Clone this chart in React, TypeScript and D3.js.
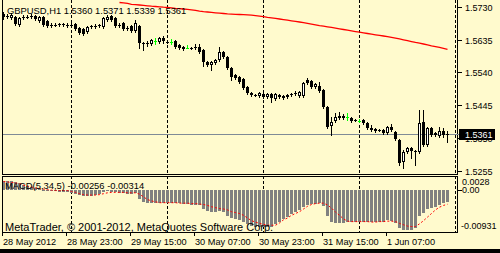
import React from 'react';
import * as d3 from 'd3';

// ---------- data ----------
const symbolTitle = 'GBPUSD,H1 1.5360 1.5371 1.5339 1.5361';
const macdTitle = 'MACD(5,34,5) -0.00256 -0.00314';
const copyright = 'MetaTrader, \u00A9 2001-2012, MetaQuotes Software Corp.';

const open = [
  1.5709,1.5704,1.5698,1.5701,1.5677,1.5701,1.5701,1.5704,1.5704,1.5689,
  1.5701,1.5689,1.5677,1.5677,1.5680,1.5679,1.5677,1.5678,1.5680,1.5669,
  1.5666,1.5657,1.5675,1.5675,1.5676,1.5672,1.5692,1.5704,1.5698,1.5677,
  1.5683,1.5669,1.5675,1.5660,1.5675,1.5625,1.5625,1.5622,1.5631,1.5628,
  1.5640,1.5628,1.5629,1.5631,1.5620,1.5614,1.5611,1.5611,1.5613,1.5614,
  1.5605,1.5570,1.5562,1.5567,1.5576,1.5599,1.5585,1.5553,1.5532,1.5527,
  1.5521,1.5498,1.5480,1.5475,1.5472,1.5477,1.5469,1.5477,1.5463,1.5474,
  1.5472,1.5469,1.5477,1.5480,1.5472,1.5472,1.5518,1.5515,1.5498,1.5501,
  1.5489,1.5440,1.5385,1.5399,1.5414,1.5414,1.5411,1.5408,1.5402,1.5400,
  1.5402,1.5393,1.5379,1.5376,1.5373,1.5373,1.5364,1.5382,1.5367,1.5344,
  1.5280,1.5309,1.5321,1.5311,1.5309,1.5396,1.5330,1.5379,1.5364,1.5356,
  1.5370,1.5360,
];
const high = [
  1.5715,1.5709,1.5712,1.5704,1.5701,1.5706,1.5706,1.5709,1.5706,1.5704,
  1.5704,1.5692,1.5683,1.5683,1.5683,1.5683,1.5683,1.5683,1.5683,1.5672,
  1.5669,1.5675,1.5677,1.5680,1.5680,1.5701,1.5706,1.5706,1.5701,1.5683,
  1.5686,1.5675,1.5677,1.5692,1.5677,1.5628,1.5631,1.5637,1.5640,1.5643,
  1.5646,1.5634,1.5637,1.5634,1.5622,1.5617,1.5619,1.5614,1.5622,1.5622,
  1.5608,1.5573,1.5573,1.5579,1.5614,1.5602,1.5588,1.5556,1.5535,1.5530,
  1.5524,1.5501,1.5483,1.5477,1.5483,1.5480,1.5480,1.5480,1.5480,1.5477,
  1.5474,1.5477,1.5480,1.5486,1.5486,1.5512,1.5524,1.5518,1.5509,1.5512,
  1.5492,1.5443,1.5411,1.5422,1.5425,1.5419,1.5422,1.5411,1.5405,1.5405,
  1.5405,1.5396,1.5388,1.5379,1.5376,1.5376,1.5385,1.5390,1.5370,1.5347,
  1.5315,1.5324,1.5324,1.5315,1.5431,1.5431,1.5382,1.5382,1.5367,1.5382,
  1.5379,1.5371,
];
const low = [
  1.5695,1.5698,1.5695,1.5677,1.5675,1.5695,1.5698,1.5698,1.5692,1.5686,
  1.5675,1.5672,1.5672,1.5675,1.5675,1.5675,1.5672,1.5672,1.5663,1.5651,
  1.5648,1.5654,1.5669,1.5669,1.5672,1.5669,1.5689,1.5689,1.5672,1.5672,
  1.5663,1.5663,1.5657,1.5657,1.5611,1.5605,1.5617,1.5620,1.5622,1.5625,
  1.5625,1.5625,1.5622,1.5611,1.5608,1.5605,1.5610,1.5608,1.5608,1.5596,
  1.5559,1.5559,1.5547,1.5564,1.5573,1.5582,1.5550,1.5518,1.5521,1.5509,
  1.5492,1.5477,1.5472,1.5472,1.5469,1.5466,1.5466,1.5454,1.5460,1.5466,
  1.5463,1.5466,1.5472,1.5474,1.5469,1.5469,1.5506,1.5495,1.5495,1.5483,
  1.5437,1.5379,1.5359,1.5396,1.5405,1.5405,1.5402,1.5396,1.5399,1.5396,
  1.5390,1.5376,1.5370,1.5367,1.5370,1.5361,1.5361,1.5370,1.5344,1.5272,
  1.5263,1.5306,1.5292,1.5272,1.5306,1.5327,1.5327,1.5356,1.5356,1.5353,
  1.5353,1.5339,
];
const close = [
  1.5701,1.5703,1.5706,1.5680,1.5698,1.5700,1.5700,1.5703,1.5695,1.5701,
  1.5677,1.5675,1.5678,1.5676,1.5679,1.5678,1.5678,1.5677,1.5666,1.5654,
  1.5651,1.5672,1.5674,1.5676,1.5678,1.5698,1.5701,1.5692,1.5675,1.5678,
  1.5666,1.5668,1.5660,1.5683,1.5625,1.5624,1.5626,1.5634,1.5631,1.5640,
  1.5631,1.5627,1.5629,1.5614,1.5611,1.5608,1.5611,1.5610,1.5612,1.5599,
  1.5570,1.5562,1.5570,1.5576,1.5599,1.5585,1.5553,1.5527,1.5524,1.5512,
  1.5495,1.5480,1.5474,1.5474,1.5480,1.5469,1.5477,1.5466,1.5477,1.5469,
  1.5466,1.5474,1.5476,1.5479,1.5483,1.5509,1.5509,1.5498,1.5506,1.5486,
  1.5440,1.5382,1.5396,1.5411,1.5408,1.5408,1.5411,1.5399,1.5401,1.5400,
  1.5393,1.5379,1.5373,1.5370,1.5372,1.5364,1.5382,1.5373,1.5347,1.5277,
  1.5309,1.5321,1.5312,1.5310,1.5393,1.5330,1.5379,1.5359,1.5359,1.5370,
  1.5359,1.5361,
];

// moving average (red line), first value belongs to bar maStart
const maStart = 29;
const maValues = [
  1.57428,1.57419,1.57399,1.57375,1.57367,1.57355,1.57343,1.57332,1.57320,1.57312,
  1.57303,1.57291,1.57283,1.57271,1.57259,1.57251,1.57239,1.57230,1.57216,1.57198,
  1.57178,1.57161,1.57152,1.57140,1.57129,1.57120,1.57109,1.57097,1.57091,1.57085,
  1.57080,1.57074,1.57068,1.57059,1.57045,1.57030,1.57016,1.56998,1.56984,1.56966,
  1.56949,1.56932,1.56914,1.56897,1.56879,1.56862,1.56842,1.56821,1.56801,1.56781,
  1.56760,1.56743,1.56723,1.56705,1.56685,1.56665,1.56645,1.56624,1.56604,1.56584,
  1.56566,1.56549,1.56529,1.56511,1.56491,1.56473,1.56456,1.56436,1.56415,1.56395,
  1.56372,1.56346,1.56320,1.56296,1.56270,1.56247,1.56224,1.56198,1.56172,1.56149,
  1.56123,1.56096,1.56070,
];

const macdMain = [
  0.0021,0.0021,0.0020,0.0018,0.0016,0.0012,0.0009,0.0007,0.0005,0.0003,
  0.0001,-0.0001,-0.0002,-0.0003,-0.0004,-0.0004,-0.0004,-0.0006,-0.0008,-0.0011,
  -0.0013,-0.0013,-0.0012,-0.0011,-0.0009,-0.0004,-0.0003,-0.0004,-0.0005,-0.0006,
  -0.0007,-0.0008,-0.0009,-0.0006,-0.0020,-0.0026,-0.0029,-0.0029,-0.0029,-0.0028,
  -0.0028,-0.0028,-0.0028,-0.0029,-0.0029,-0.0030,-0.0031,-0.0032,-0.0032,-0.0034,
  -0.0042,-0.0046,-0.0048,-0.0048,-0.0046,-0.0049,-0.0058,-0.0063,-0.0064,-0.0066,
  -0.0071,-0.0075,-0.0079,-0.0081,-0.0082,-0.0083,-0.0083,-0.0082,-0.0075,-0.0071,
  -0.0065,-0.0059,-0.0053,-0.0049,-0.0044,-0.0037,-0.0033,-0.0031,-0.0030,-0.0029,
  -0.0036,-0.0058,-0.0071,-0.0073,-0.0073,-0.0072,-0.0071,-0.0071,-0.0070,-0.0070,
  -0.0070,-0.0071,-0.0071,-0.0071,-0.0070,-0.0070,-0.0066,-0.0068,-0.0073,-0.0084,
  -0.0089,-0.0088,-0.0088,-0.0085,-0.0057,-0.0051,-0.0043,-0.0040,-0.0038,-0.0033,
  -0.0029,-0.00256,
];
const macdSignal = [
  0.0019,0.0018,0.0017,0.0016,0.0014,0.0011,0.0009,0.0007,0.0005,0.0004,
  0.0002,0.0001,0.0000,-0.0001,-0.0001,-0.0001,-0.0001,-0.0003,-0.0005,-0.0008,
  -0.0010,-0.0011,-0.0011,-0.0011,-0.0010,-0.0008,-0.0006,-0.0005,-0.0005,-0.0005,
  -0.0005,-0.0006,-0.0006,-0.0006,-0.0009,-0.0015,-0.0021,-0.0024,-0.0026,-0.0028,
  -0.0028,-0.0028,-0.0028,-0.0028,-0.0029,-0.0029,-0.0029,-0.0030,-0.0030,-0.0031,
  -0.0032,-0.0034,-0.0037,-0.0039,-0.0041,-0.0042,-0.0044,-0.0048,-0.0050,-0.0052,
  -0.0056,-0.0062,-0.0068,-0.0071,-0.0074,-0.0076,-0.0078,-0.0078,-0.0078,-0.0073,
  -0.0066,-0.0062,-0.0056,-0.0052,-0.0048,-0.0042,-0.0036,-0.0032,-0.0030,-0.0029,
  -0.0029,-0.0033,-0.0040,-0.0049,-0.0056,-0.0064,-0.0069,-0.0070,-0.0070,-0.0070,
  -0.0070,-0.0070,-0.0071,-0.0071,-0.0070,-0.0070,-0.0069,-0.0069,-0.0070,-0.0074,
  -0.0077,-0.0080,-0.0081,-0.0081,-0.0075,-0.0068,-0.0060,-0.0052,-0.0044,-0.0038,
  -0.0034,-0.00314,
];

const priceTicks = [1.5730, 1.5635, 1.5540, 1.5445, 1.5350, 1.5255];
const bidPrice = 1.5361;
const macdMax = 0.0028;
const macdMin = -0.00931;
const timeLabels = ['28 May 2012', '28 May 23:00', '29 May 15:00', '30 May 07:00', '30 May 23:00', '31 May 15:00', '1 Jun 07:00'];
const timeLabelBars = [0, 16, 32, 48, 64, 80, 96];
const daySeparatorBars = [17, 41, 65, 89, 113];

// ---------- drawing ----------
const FONT = '"Liberation Sans", Arial, sans-serif';
const BG = '#FFFACD';

export default function App() {
  const W = 500, H = 253;
  const left = 2, right = 457, mainBottom = 174, subTop = 176, subBottom = 232;

  const x = d3.scaleLinear().domain([0, 113]).range([3, 455]);
  const y = d3.scaleLinear().domain([1.5244, 1.5750]).range([mainBottom + 0.5, 0]);
  const ym = d3.scaleLinear().domain([macdMin, macdMax]).range([subBottom, subTop + 1.5]);

  const maLine = d3.line<number>()
    .x((_, k) => x(maStart + k) + 0.5)
    .y((d) => y(d));
  const sigLine = d3.line<number>()
    .x((_, k) => x(k) + 0.5)
    .y((d) => ym(d));

  const candles = open.map((o, i) => {
    const c = close[i];
    const col = Math.round(x(i));
    const wTop = Math.round(y(high[i]));
    const wBot = Math.round(y(low[i]));
    const bTop = Math.round(y(Math.max(o, c)));
    const bBot = Math.round(y(Math.min(o, c)));
    const hBody = bBot - bTop;
    const doji = o === c;
    const color = doji ? '#00FF00' : '#000';
    const parts: React.ReactNode[] = [];
    parts.push(<rect key="w" x={col} y={wTop} width={1} height={Math.max(1, wBot - wTop + 1)} fill={color} />);
    if (hBody < 1) {
      parts.push(<rect key="b" x={col - 1} y={bTop} width={3} height={1} fill={color} />);
    } else if (c > o && hBody >= 3) {
      parts.push(<rect key="b" x={col - 0.5} y={bTop + 0.5} width={2} height={hBody - 1} fill="#fff" stroke="#000" strokeWidth={1} />);
    } else {
      parts.push(<rect key="b" x={col - 1} y={bTop} width={3} height={hBody} fill="#000" />);
    }
    return <g key={i}>{parts}</g>;
  });

  const zeroY = Math.round(ym(0));
  const bars = macdMain.map((v, i) => {
    const col = Math.round(x(i));
    const yv = Math.round(ym(v));
    const top = Math.min(zeroY, yv);
    const h = Math.max(1, Math.abs(yv - zeroY));
    return <rect key={i} x={col - 1} y={top} width={3} height={h} fill="#808080" />;
  });

  const bidY = Math.round(y(bidPrice)) + 0.5;

  return (
    <div style={{ position: 'absolute', left: 0, top: 0 }}>
      <svg width={W} height={H} style={{ display: 'block' }} shapeRendering="crispEdges">
        <defs>
          <clipPath id="mainClip"><rect x={left + 1} y={0} width={right - left - 1} height={mainBottom} /></clipPath>
          <clipPath id="subClip"><rect x={left + 1} y={subTop + 1} width={right - left - 1} height={subBottom - subTop - 1} /></clipPath>
        </defs>
        <rect x={0} y={0} width={W} height={H} fill={BG} />

        {/* main window */}
        <g clipPath="url(#mainClip)">
          {daySeparatorBars.map((b) => (
            <line key={b} x1={x(b) + 0.5} x2={x(b) + 0.5} y1={0} y2={mainBottom} stroke="#000" strokeDasharray="3,2" />
          ))}
          <line x1={left} x2={right} y1={bidY} y2={bidY} stroke="#7F8A96" />
          <path d={maLine(maValues) || ''} fill="none" stroke="#FF0000" strokeWidth={1.3} shapeRendering="auto" />
          {candles}
        </g>

        {/* sub window */}
        <g clipPath="url(#subClip)">
          {daySeparatorBars.map((b) => (
            <line key={b} x1={x(b) + 0.5} x2={x(b) + 0.5} y1={subTop} y2={subBottom} stroke="#000" strokeDasharray="3,2" />
          ))}
          {bars}
          <path d={sigLine(macdSignal) || ''} fill="none" stroke="#FF0000" strokeWidth={1} strokeDasharray="2,2" shapeRendering="auto" />
        </g>

        {/* borders */}
        <g stroke="#000" strokeWidth={1}>
          <line x1={left + 0.5} x2={left + 0.5} y1={0} y2={mainBottom + 1} />
          <line x1={right + 0.5} x2={right + 0.5} y1={0} y2={mainBottom + 1} />
          <line x1={left} x2={right + 1} y1={mainBottom + 0.5} y2={mainBottom + 0.5} />
          <line x1={left} x2={right + 1} y1={subTop + 0.5} y2={subTop + 0.5} />
          <line x1={left} x2={right + 1} y1={subBottom + 0.5} y2={subBottom + 0.5} />
          <line x1={left + 0.5} x2={left + 0.5} y1={subTop} y2={subBottom + 1} />
          <line x1={right + 0.5} x2={right + 0.5} y1={subTop} y2={subBottom + 1} />
        </g>

        {/* price axis */}
        {priceTicks.map((p) => {
          const py = Math.round(y(p)) + 0.5;
          return (
            <g key={p}>
              <line x1={458} x2={462} y1={py} y2={py} stroke="#000" />
              <text x={465} y={py} dominantBaseline="central" fontFamily={FONT} fontSize={9} fill="#000" shapeRendering="auto">{p.toFixed(4)}</text>
            </g>
          );
        })}
        <line x1={right} x2={459} y1={bidY} y2={bidY} stroke="#7F8A96" />
        <rect x={459} y={Math.round(y(bidPrice)) - 5} width={36} height={11} fill="#000" />
        <text x={465} y={Math.round(y(bidPrice)) + 0.5} dominantBaseline="central" fontFamily={FONT} fontSize={9} fill="#fff">{bidPrice.toFixed(4)}</text>

        {/* macd axis */}
        <line x1={458} x2={462} y1={zeroY + 0.5} y2={zeroY + 0.5} stroke="#000" />
        <text x={462} y={ym(macdMax) + 4.5} dominantBaseline="central" fontFamily={FONT} fontSize={9} fill="#000">{macdMax.toFixed(4)}</text>
        <text x={462} y={zeroY} dominantBaseline="central" fontFamily={FONT} fontSize={9} fill="#000">{(0).toFixed(2)}</text>
        <text x={461} y={ym(macdMin) - 6} dominantBaseline="central" fontFamily={FONT} fontSize={9} fill="#000">{macdMin.toFixed(5)}</text>

        {/* time axis */}
        {timeLabelBars.map((b, k) => {
          const tx = Math.round(x(b)) - 1;
          return (
            <g key={b}>
              <line x1={tx + 0.5} x2={tx + 0.5} y1={subBottom + 1} y2={subBottom + 4} stroke="#000" />
              <text x={tx + 1} y={244.5} fontFamily={FONT} fontSize={9.2} fill="#000">{timeLabels[k]}</text>
            </g>
          );
        })}

        {/* titles */}
        <text x={7} y={14.2} fontFamily={FONT} fontSize={9.4} fill="#000">{symbolTitle}</text>
        <text x={5} y={189.4} fontFamily={FONT} fontSize={9.4} fill="#000">{macdTitle}</text>
        <text x={5} y={231.3} fontFamily={FONT} fontSize={11} fill="#000">{copyright}</text>

        {/* bottom strip */}
        <rect x={0} y={249} width={W} height={H - 249} fill="#000" />
      </svg>
    </div>
  );
}
